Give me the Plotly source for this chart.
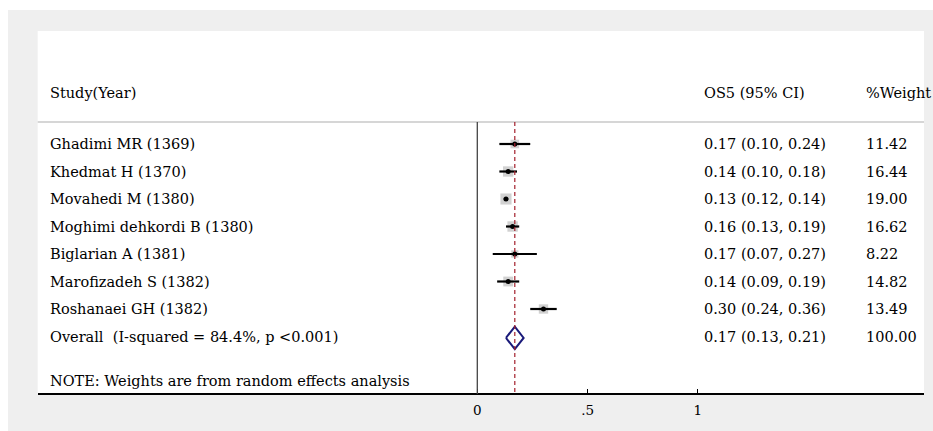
import plotly.graph_objects as go

W, H = 933, 431

studies = ["Ghadimi MR (1369)", "Khedmat H (1370)", "Movahedi M (1380)",
           "Moghimi dehkordi B (1380)", "Biglarian A (1381)",
           "Marofizadeh S (1382)", "Roshanaei GH (1382)"]
est = [0.17, 0.14, 0.13, 0.16, 0.17, 0.14, 0.30]
lo = [0.10, 0.10, 0.12, 0.13, 0.07, 0.09, 0.24]
hi = [0.24, 0.18, 0.14, 0.19, 0.27, 0.19, 0.36]
weights = [11.42, 16.44, 19.00, 16.62, 8.22, 14.82, 13.49]

overall_label = "Overall\u00a0\u00a0(I-squared = 84.4%, p <0.001)"
overall_est, overall_lo, overall_hi, overall_w = 0.17, 0.13, 0.21, 100.00

header = ["Study(Year)", "OS5 (95% CI)", "%Weight"]
note = "NOTE: Weights are from random effects analysis"
tick_vals = [0, 0.5, 1]
tick_text = ["0", ".5", "1"]

FONT = "DejaVu Serif"
FS = 14.5

# pixel geometry helpers
px0, pxu = 477.3, 220.6          # pixel of x=0, pixels per unit
row0, rowh = 144.0, 27.5         # pixel of first row, pixels per row
def prow(p):
    return (p - row0) / rowh
def pxp(p):                      # x pixel -> paper x
    return p / W
def pyp(p):                      # y pixel -> paper y
    return 1 - p / H

white_l, white_r, white_t, white_b = 37.7, 924.0, 31.0, 394.0
xr = [(white_l - px0) / pxu, (white_r - px0) / pxu]
yr = [prow(H), prow(0)]

n = len(studies)
rows = list(range(n))
overall_row = n
header_row = prow(93)
sep_row = prow(122)
note_row = prow(381)
axis_row = prow(white_b)

fig = go.Figure()

# squares
fig.add_trace(go.Scatter(
    x=est, y=rows, mode="markers",
    marker=dict(symbol="square", size=[2.55 * w ** 0.5 for w in weights],
                color="#bdbdbd", line=dict(width=0)),
    hoverinfo="skip", showlegend=False))

# CI lines
cx, cy = [], []
for i in rows:
    cx += [lo[i], hi[i], None]
    cy += [i, i, None]
fig.add_trace(go.Scatter(x=cx, y=cy, mode="lines",
                         line=dict(color="black", width=2.2),
                         hoverinfo="skip", showlegend=False))

# centre dots
fig.add_trace(go.Scatter(x=est, y=rows, mode="markers",
                         marker=dict(symbol="circle", size=5, color="black"),
                         hoverinfo="skip", showlegend=False))

# overall diamond
dh = 0.41
yc = overall_row + 0.05
fig.add_trace(go.Scatter(
    x=[overall_lo, overall_est, overall_hi, overall_est, overall_lo],
    y=[yc, yc - dh, yc, yc + dh, yc],
    mode="lines", line=dict(color="#1a1a7a", width=2),
    hoverinfo="skip", showlegend=False))

shapes = [
    # outer gray area
    dict(type="rect", xref="paper", yref="paper", x0=pxp(8), x1=1,
         y0=0, y1=pyp(10), fillcolor="#efefef", line=dict(width=0),
         layer="below"),
    # white plot region
    dict(type="rect", xref="paper", yref="paper", x0=pxp(white_l),
         x1=pxp(white_r), y0=pyp(white_b), y1=pyp(white_t),
         fillcolor="white", line=dict(width=0), layer="below"),
    # header separator
    dict(type="line", xref="paper", yref="y", x0=pxp(white_l),
         x1=pxp(white_r), y0=sep_row, y1=sep_row,
         line=dict(color="#c8c8c8", width=1.5)),
    # null line
    dict(type="line", xref="x", yref="y", x0=0, x1=0, y0=sep_row,
         y1=axis_row, line=dict(color="#444444", width=1.3)),
    # overall estimate dashed line
    dict(type="line", xref="x", yref="y", x0=overall_est, x1=overall_est,
         y0=sep_row, y1=axis_row,
         line=dict(color="#a4202c", width=1.2, dash="4px,3px")),
]

ann = []
def txt(xpix, y, s):
    ann.append(dict(x=pxp(xpix), xref="paper", y=y, yref="y", text=s,
                    showarrow=False, xanchor="left", yanchor="middle",
                    font=dict(family=FONT, size=FS, color="black")))

txt(48, header_row, header[0])
txt(702, header_row, header[1])
txt(864, header_row, header[2])
for i in rows:
    txt(48, i, studies[i])
    txt(702, i, f"{est[i]:.2f} ({lo[i]:.2f}, {hi[i]:.2f})")
    txt(864, i, f"{weights[i]:.2f}")
txt(48, overall_row, overall_label)
txt(702, overall_row,
    f"{overall_est:.2f} ({overall_lo:.2f}, {overall_hi:.2f})")
txt(864, overall_row, f"{overall_w:.2f}")
txt(48, note_row, note)

fig.update_layout(
    width=W, height=H, margin=dict(l=0, r=0, t=0, b=0),
    paper_bgcolor="white", plot_bgcolor="rgba(0,0,0,0)",
    shapes=shapes, annotations=ann, showlegend=False,
    xaxis=dict(domain=[pxp(white_l), pxp(white_r)], range=xr,
               anchor="free", position=pyp(white_b),
               showgrid=False, zeroline=False, showline=True,
               linecolor="black", linewidth=1.6,
               ticks="inside", ticklen=4, tickwidth=1.3, tickcolor="black",
               tickvals=tick_vals, ticktext=tick_text, ticklabelstandoff=4,
               tickfont=dict(family=FONT, size=FS - 1, color="black")),
    yaxis=dict(domain=[0, 1], range=yr, visible=False, fixedrange=True),
)

fig.write_html(
    "out.html", config={"displayModeBar": False},
    post_script="document.body.style.margin='0';"
                "document.body.style.overflow='hidden';")
